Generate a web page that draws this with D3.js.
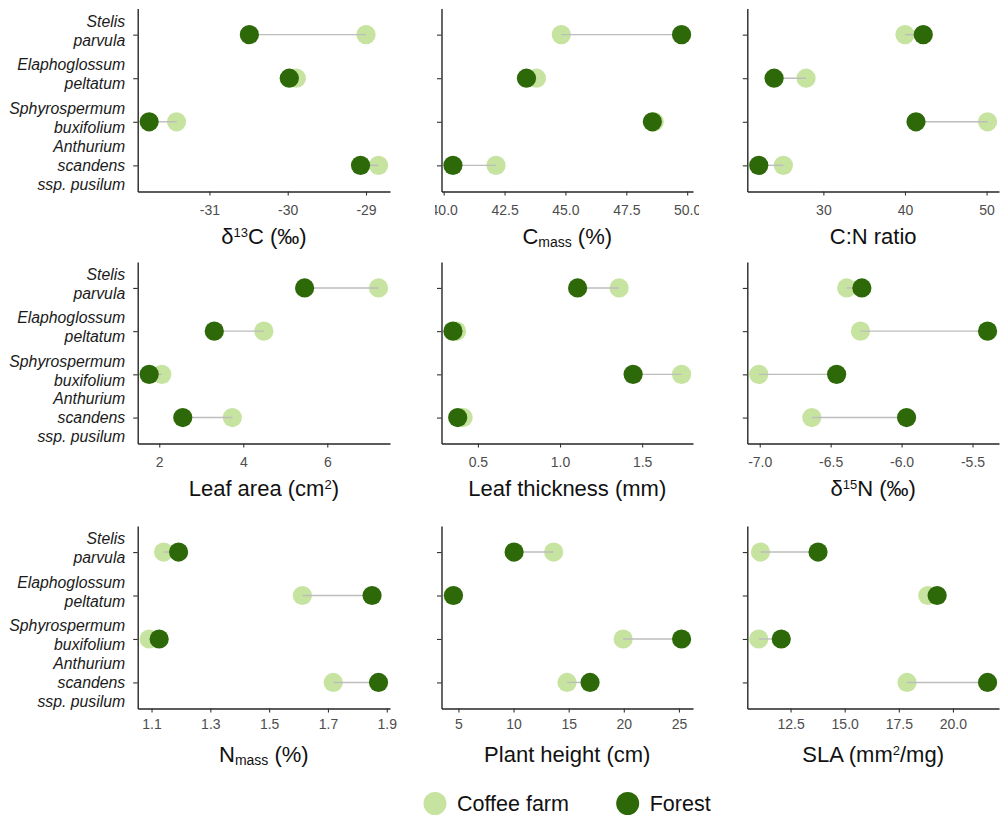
<!DOCTYPE html>
<html>
<head>
<meta charset="utf-8">
<script src="https://cdn.jsdelivr.net/npm/d3@7"></script>
<style>
  html, body { margin: 0; padding: 0; background: #fff; }
  svg { display: block; font-family: "Liberation Sans", Arial, sans-serif; }
</style>
</head>
<body>
<svg id="chart" width="1000" height="819"></svg>
<script>
// Species (top to bottom) and their wrapped italic labels
const species = ["Stelis parvula", "Elaphoglossum peltatum", "Sphyrospermum buxifolium", "Anthurium scandens ssp. pusilum"];
const speciesLines = [["Stelis", "parvula"], ["Elaphoglossum", "peltatum"], ["Sphyrospermum", "buxifolium"], ["Anthurium", "scandens", "ssp. pusilum"]];

// Trait means per species, habitat: coffee farm vs forest
const d13C_coffee = [-29.00, -29.89, -31.42, -28.84];
const d13C_forest = [-30.49, -29.98, -31.77, -29.07];
const cmass_coffee = [44.83, 43.81, 48.65, 42.15];
const cmass_forest = [49.77, 43.40, 48.57, 40.38];
const cn_coffee = [40.0, 27.88, 50.12, 25.10];
const cn_forest = [42.24, 23.96, 41.35, 22.08];
const area_coffee = [7.22, 4.49, 2.06, 3.74];
const area_forest = [5.46, 3.31, 1.76, 2.56];
const thick_coffee = [1.36, 0.37, 1.74, 0.41];
const thick_forest = [1.107, 0.348, 1.445, 0.377];
const d15N_coffee = [-6.387, -6.29, -7.007, -6.633];
const d15N_forest = [-6.28, -5.394, -6.458, -5.965];
const nmass_coffee = [1.141, 1.613, 1.092, 1.718];
const nmass_forest = [1.192, 1.850, 1.126, 1.872];
const height_coffee = [13.64, 4.50, 19.94, 14.85];
const height_forest = [10.05, 4.55, 25.24, 16.94];
const sla_coffee = [11.11, 18.84, 11.03, 17.88];
const sla_forest = [13.77, 19.27, 12.07, 21.60];

// Axis tick values
const d13C_ticks = [-31, -30, -29];
const cmass_ticks = [40, 42.5, 45, 47.5, 50];
const cn_ticks = [30, 40, 50];
const area_ticks = [2, 4, 6];
const thick_ticks = [0.5, 1.0, 1.5];
const d15N_ticks = [-7, -6.5, -6, -5.5];
const nmass_ticks = [1.1, 1.3, 1.5, 1.7, 1.9];
const height_ticks = [5, 10, 15, 20, 25];
const sla_ticks = [12.5, 15, 17.5, 20];

// Axis titles as text runs (sup / sub for raised / lowered parts)
const d13C_title = [{t: "δ"}, {t: "13", sup: true}, {t: "C (‰)"}];
const cmass_title = [{t: "C"}, {t: "mass", sub: true}, {t: " (%)"}];
const cn_title = [{t: "C:N ratio"}];
const area_title = [{t: "Leaf area (cm"}, {t: "2", sup: true}, {t: ")"}];
const thick_title = [{t: "Leaf thickness (mm)"}];
const d15N_title = [{t: "δ"}, {t: "15", sup: true}, {t: "N (‰)"}];
const nmass_title = [{t: "N"}, {t: "mass", sub: true}, {t: " (%)"}];
const height_title = [{t: "Plant height (cm)"}];
const sla_title = [{t: "SLA (mm"}, {t: "2", sup: true}, {t: "/mg)"}];

const habitats = ["Coffee farm", "Forest"];
const colCoffee = "#c6e3a0";
const colForest = "#2d6908";

const panels = [
  {coffee: d13C_coffee, forest: d13C_forest, ticks: d13C_ticks, fmt: d3.format("d"), title: d13C_title},
  {coffee: cmass_coffee, forest: cmass_forest, ticks: cmass_ticks, fmt: d3.format(".1f"), title: cmass_title},
  {coffee: cn_coffee, forest: cn_forest, ticks: cn_ticks, fmt: d3.format("d"), title: cn_title},
  {coffee: area_coffee, forest: area_forest, ticks: area_ticks, fmt: d3.format("d"), title: area_title},
  {coffee: thick_coffee, forest: thick_forest, ticks: thick_ticks, fmt: d3.format(".1f"), title: thick_title},
  {coffee: d15N_coffee, forest: d15N_forest, ticks: d15N_ticks, fmt: d3.format(".1f"), title: d15N_title},
  {coffee: nmass_coffee, forest: nmass_forest, ticks: nmass_ticks, fmt: d3.format(".1f"), title: nmass_title},
  {coffee: height_coffee, forest: height_forest, ticks: height_ticks, fmt: d3.format("d"), title: height_title},
  {coffee: sla_coffee, forest: sla_forest, ticks: sla_ticks, fmt: d3.format(".1f"), title: sla_title}
];

// Grid layout: panel areas and the cell each panel is clipped to
const cols = [
  {x0: 137.7, x1: 390, c0: 0, c1: 435},
  {x0: 441.5, x1: 693, c0: 435, c1: 699},
  {x0: 747.3, x1: 999, c0: 699, c1: 1000}
];
const rows = [
  {y0: 8.5, y1: 191.5, tickLab: 210, title: 236, c0: 0, c1: 255},
  {y0: 262, y1: 443.5, tickLab: 461.5, title: 488.5, c0: 255, c1: 515},
  {y0: 526, y1: 708.5, tickLab: 723.5, title: 754, c0: 515, c1: 780}
];

// vertical offsets of wrapped label lines around their tick
const lineOffsets = {2: [-13.5, 5.5], 3: [-19.5, 0, 18.5]};

const R = 9.6;
const svg = d3.select("#chart");
const defs = svg.append("defs");

function drawTitle(sel, runs) {
  runs.forEach(r => {
    const ts = sel.append("tspan").text(r.t);
    if (r.sup) ts.attr("font-size", 13).attr("baseline-shift", "7");
    if (r.sub) ts.attr("font-size", 14).attr("baseline-shift", "-3");
  });
}

panels.forEach((p, i) => {
  const col = cols[i % 3], row = rows[Math.floor(i / 3)];
  const clipId = "clip" + i;
  defs.append("clipPath").attr("id", clipId).append("rect")
    .attr("x", col.c0).attr("y", row.c0).attr("width", col.c1 - col.c0).attr("height", row.c1 - row.c0);

  const g = svg.append("g").attr("clip-path", `url(#${clipId})`);

  // 5% expansion of the data range on both sides
  const ext = d3.extent(p.coffee.concat(p.forest));
  const pad = (ext[1] - ext[0]) * 0.05;
  const x = d3.scaleLinear().domain([ext[0] - pad, ext[1] + pad]).range([col.x0, col.x1]);
  const y = d3.scalePoint().domain(species).range([row.y0, row.y1]).padding(0.6);

  // x axis
  const xa = g.append("g").attr("transform", `translate(0,${row.y1})`)
    .call(d3.axisBottom(x).tickValues(p.ticks)
      .tickFormat(d => p.fmt(d).replace("\u2212", "-"))
      .tickSize(4).tickSizeOuter(0));
  xa.select(".domain").attr("stroke", "#262626").attr("stroke-width", 1.4);
  xa.selectAll(".tick line").attr("stroke", "#333").attr("stroke-width", 1.1);
  xa.selectAll(".tick text")
    .attr("y", row.tickLab - row.y1).attr("dy", "0.36em")
    .attr("font-size", 14).attr("fill", "#4d4d4d")
    .attr("font-family", "Liberation Sans, Arial, sans-serif");

  // y axis
  const ya = g.append("g").attr("transform", `translate(${col.x0},0)`)
    .call(d3.axisLeft(y).tickSize(4.5).tickSizeOuter(0).tickFormat(""));
  ya.select(".domain").attr("stroke", "#262626").attr("stroke-width", 1.4);
  ya.selectAll(".tick line").attr("stroke", "#333").attr("stroke-width", 1.1);

  if (i % 3 === 0) {
    species.forEach((s, k) => {
      const lines = speciesLines[k];
      const offs = lineOffsets[lines.length];
      const t = g.append("text")
        .attr("text-anchor", "end").attr("font-style", "italic")
        .attr("font-size", 15.8).attr("fill", "#1a1a1a");
      lines.forEach((ln, j) => {
        t.append("tspan").attr("x", col.x0 - 12.5)
          .attr("y", y(s) + offs[j])
          .attr("dy", "0.36em").text(ln);
      });
    });
  }

  // axis title
  const tt = g.append("text").attr("x", (col.x0 + col.x1) / 2).attr("y", row.title)
    .attr("dy", "0.36em").attr("text-anchor", "middle").attr("font-size", 22).attr("fill", "#111");
  drawTitle(tt, p.title);

  // coffee points, connecting segments, then forest points on top
  g.append("g").selectAll("circle").data(species).join("circle")
    .attr("cx", (s, k) => x(p.coffee[k])).attr("cy", s => y(s)).attr("r", R).attr("fill", colCoffee);
  g.append("g").selectAll("line").data(species).join("line")
    .attr("x1", (s, k) => x(p.coffee[k])).attr("x2", (s, k) => x(p.forest[k]))
    .attr("y1", s => y(s)).attr("y2", s => y(s))
    .attr("stroke", "#bdbdbd").attr("stroke-width", 1.4);
  g.append("g").selectAll("circle").data(species).join("circle")
    .attr("cx", (s, k) => x(p.forest[k])).attr("cy", s => y(s)).attr("r", R).attr("fill", colForest);
});

// legend
const legendX = [435, 627.7];
const leg = svg.append("g");
habitats.forEach((h, k) => {
  leg.append("circle").attr("cx", legendX[k]).attr("cy", 803.5).attr("r", 11.5)
    .attr("fill", k === 0 ? colCoffee : colForest);
  leg.append("text").attr("x", legendX[k] + 22).attr("y", 803.5).attr("dy", "0.36em")
    .attr("font-size", 21.5).attr("fill", "#111").text(h);
});
</script>
</body>
</html>
